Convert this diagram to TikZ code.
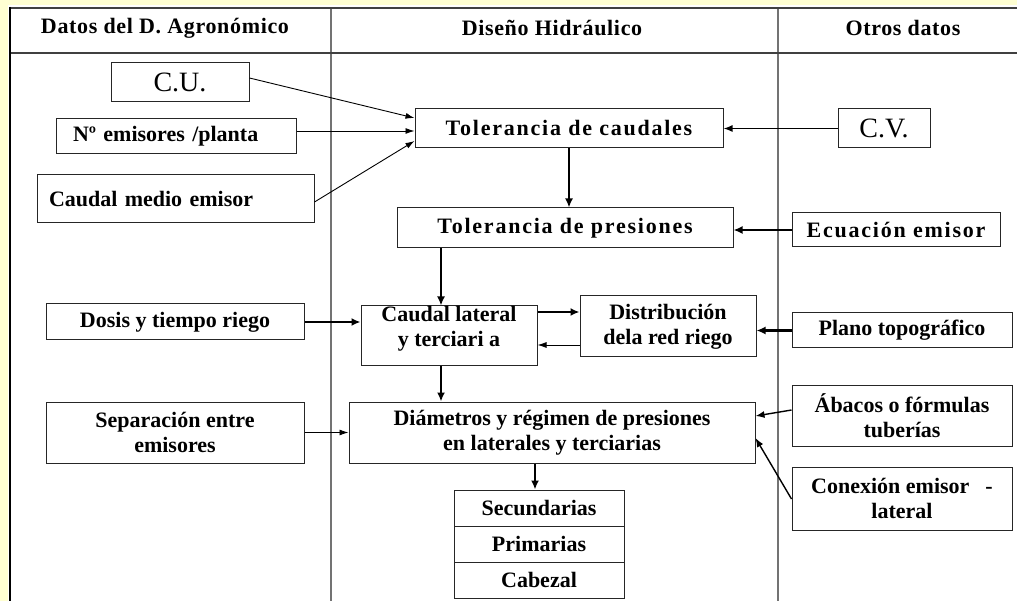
\documentclass[tikz,border=0pt]{standalone}
\usepackage{fontspec}
\setmainfont{Liberation Serif}
\usetikzlibrary{arrows.meta}
\definecolor{amarillo}{HTML}{FFFFD2}
\begin{document}
\begin{tikzpicture}[x=1pt,y=-1pt,
    caja/.style={draw=black!85,line width=1pt,inner sep=2pt,align=center,
      font=\bfseries\fontsize{22}{25}\selectfont},
    ancha/.style={font=\bfseries\fontsize{22}{25}\selectfont\addfontfeature{LetterSpace=8}},
    titulo/.style={font=\bfseries\fontsize{22}{25}\selectfont\addfontfeature{LetterSpace=3}},
    fino/.style={-{Latex[length=9pt,width=6pt]},line width=0.9pt},
    medio/.style={-{Latex[length=9pt,width=7pt]},line width=1.4pt},
    grueso/.style={-{Latex[length=9pt,width=8pt]},line width=2.2pt},
  ]
  \useasboundingbox (0,0) rectangle (1017,601);
  \fill[amarillo] (0,0) rectangle (1017,601);
  \fill[white] (8,5) rectangle (1017,601);
  % cuadro
  \draw[black!55,line width=1.2pt] (331,8)--(331,601) (778,8)--(778,601);
  \draw[black!75,line width=1.2pt] (10,8)--(1017,8) (10,53)--(1017,53);
  \draw[line width=2.5pt] (10,7)--(10,601);
  \foreach \x/\t/\n in {165/Datos del D. Agronómico/agr,552/Diseño Hidráulico/hid,903/Otros datos/otr}
    \node[titulo] (\n) at (\x,28) {\t};
  % datos agronomicos
  \node[caja,font=\mdseries\fontsize{28}{30}\selectfont,minimum width=138,minimum height=39] (cu) at (180,82.5) {C.U.};
  \node[caja,align=left,text width=206,inner xsep=17,minimum height=35] (nemis) at (176,136.5) {Nº emisores /planta};
  \node[caja,align=left,text width=253,inner xsep=12,minimum height=48] (qmedio) at (175.5,199) {Caudal medio emisor};
  \node[caja,minimum width=258,minimum height=36] (dosis) at (175,322) {Dosis y tiempo riego};
  \node[caja,minimum width=258,minimum height=61] (separ) at (175,432.5) {Separación entre\\emisores};
  % diseno hidraulico
  \node[caja,ancha,minimum width=308,minimum height=39] (tolq) at (569,128.5) {Tolerancia de caudales};
  \node[caja,ancha,minimum width=336,minimum height=40] (tolp) at (565,228) {Tolerancia de presiones};
  \node[caja,minimum width=176,minimum height=60] (qlat) at (449,336) {};
  \node[anchor=north,inner sep=0pt,align=center,font=\bfseries\fontsize{22}{25}\selectfont] (qlattxt) at (449,306) {Caudal lateral\\y terciari a};
  \node[caja,minimum width=176,minimum height=61] (distr) at (668,326.5) {Distribución\\dela red riego};
  \node[caja,minimum width=406,minimum height=61] (diam) at (552,432.5) {Diámetros y régimen de presiones\\en laterales y terciarias};
  \foreach \t/\y/\n in {Secundarias/508/sec,Primarias/544/pri,Cabezal/580/cab}
    \node[caja,minimum width=170,minimum height=36] (\n) at (539,\y) {\t};
  % otros datos
  \node[caja,font=\mdseries\fontsize{28}{30}\selectfont,minimum width=92,minimum height=39] (cv) at (884,128.5) {C.V.};
  \node[caja,ancha,minimum width=208,minimum height=34] (ecu) at (896,230) {Ecuación emisor};
  \node[caja,minimum width=220,minimum height=35] (plano) at (902,330.5) {Plano topográfico};
  \node[caja,minimum width=220,minimum height=61] (abacos) at (902,415.5) {Ábacos o fórmulas\\tuberías};
  \node[caja,minimum width=220,minimum height=63] (conex) at (902,498.5) {Conexión emisor\hspace{16pt}-\\lateral};
  % flechas
  \draw[fino] ([yshift=4.5]cu.east) -- ([yshift=10.5]tolq.west);
  \draw[fino] ([yshift=5.5]nemis.east) -- ([yshift=-2.5]tolq.west);
  \draw[fino] ([yshift=-3]qmedio.east) -- ([yshift=-12.5]tolq.west);
  \draw[medio] (cv.west) -- (tolq.east);
  \draw[grueso] (tolq.south) -- (tolq.south |- tolp.north);
  \draw[grueso] (ecu.west) -- (ecu.west -| tolp.east);
  \draw[grueso] ([xshift=-8]qlat.north |- tolp.south) -- ([xshift=-8]qlat.north);
  \draw[grueso] (dosis.east) -- (dosis.east -| qlat.west);
  \draw[grueso] ([yshift=24]qlat.east) -- ([yshift=24]qlat.east -| distr.west);
  \draw[fino] ([yshift=-9]qlat.east -| distr.west) -- ([yshift=-9]qlat.east);
  \draw[grueso] (plano.west) -- (plano.west -| distr.east);
  \draw[grueso] ([xshift=-8]qlat.south) -- ([xshift=-8]qlat.south |- diam.north);
  \draw[fino] (separ.east) -- (separ.east -| diam.west);
  \draw[medio] ([yshift=5.5]abacos.west) -- ([yshift=16.5]diam.east);
  \draw[medio] ([yshift=-0.5]conex.west) -- ([yshift=-5.5]diam.east);
  \draw[grueso] ([xshift=-17]diam.south) -- ([xshift=-17]diam.south |- sec.north);
\end{tikzpicture}
\end{document}
